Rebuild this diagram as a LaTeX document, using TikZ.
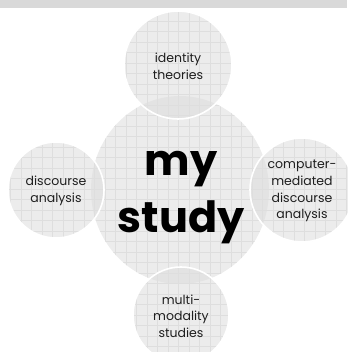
\documentclass[tikz,border=0pt]{standalone}
\usepackage{fontspec}
\setmainfont{Poppins}
\usetikzlibrary{shapes.geometric}
\definecolor{bubble}{HTML}{DCDCDC}
\definecolor{gridc}{HTML}{DEDEDE}
\definecolor{barc}{HTML}{D9D9D9}
\definecolor{txt}{HTML}{1E1E1E}
\tikzset{
  bubblefill/.style={fill=bubble, fill opacity=0.55, draw=none},
  satellite/.style={circle, draw=none, inner sep=0pt, align=center, text=txt,
    font=\fontsize{12.5}{16.7}\selectfont},
  ring/.style={draw=white, line width=1.6pt},
  gridline/.style={draw=gridc, line width=0.45pt},
}
\newcommand{\bubblegrid}{%
  \foreach \gx in {0,10.5,...,350}{\draw[gridline] (\gx,0) -- (\gx,352);}
  \foreach \gy in {0,10.5,...,355}{\draw[gridline] (0,\gy) -- (347,\gy);}
}
\begin{document}
\begin{tikzpicture}[x=1pt,y=-1pt]
\useasboundingbox (0,0) rectangle (347,352);
\fill[barc] (0,0) rectangle (347,8);
% main ellipse
\path[bubblefill] (180,190) ellipse [x radius=89, y radius=94];
\begin{scope}
  \clip (180,190) ellipse [x radius=89, y radius=94];
  \bubblegrid
\end{scope}
% satellites
\foreach \cx/\cy/\r in {178/65/54, 56/190/48, 302/190/52, 181/315/48}{
  \path[bubblefill] (\cx,\cy) circle[radius=\r];
  \begin{scope}
    \clip (\cx,\cy) circle[radius=\r];
    \bubblegrid
  \end{scope}
  \draw[ring] (\cx,\cy) circle[radius=\r];
}
\node[align=center, text=black, font=\fontsize{43}{57}\selectfont\bfseries] (main) at (181,198) {my\\study};
\node[satellite] (top) at (178,66) {identity\\theories};
\node[satellite] (left) at (56,191) {discourse\\analysis};
\node[satellite] (right) at (302,191) {computer-\\mediated\\discourse\\analysis};
\node[satellite] (bottom) at (181,316) {multi-\\modality\\studies};
\end{tikzpicture}
\end{document}
